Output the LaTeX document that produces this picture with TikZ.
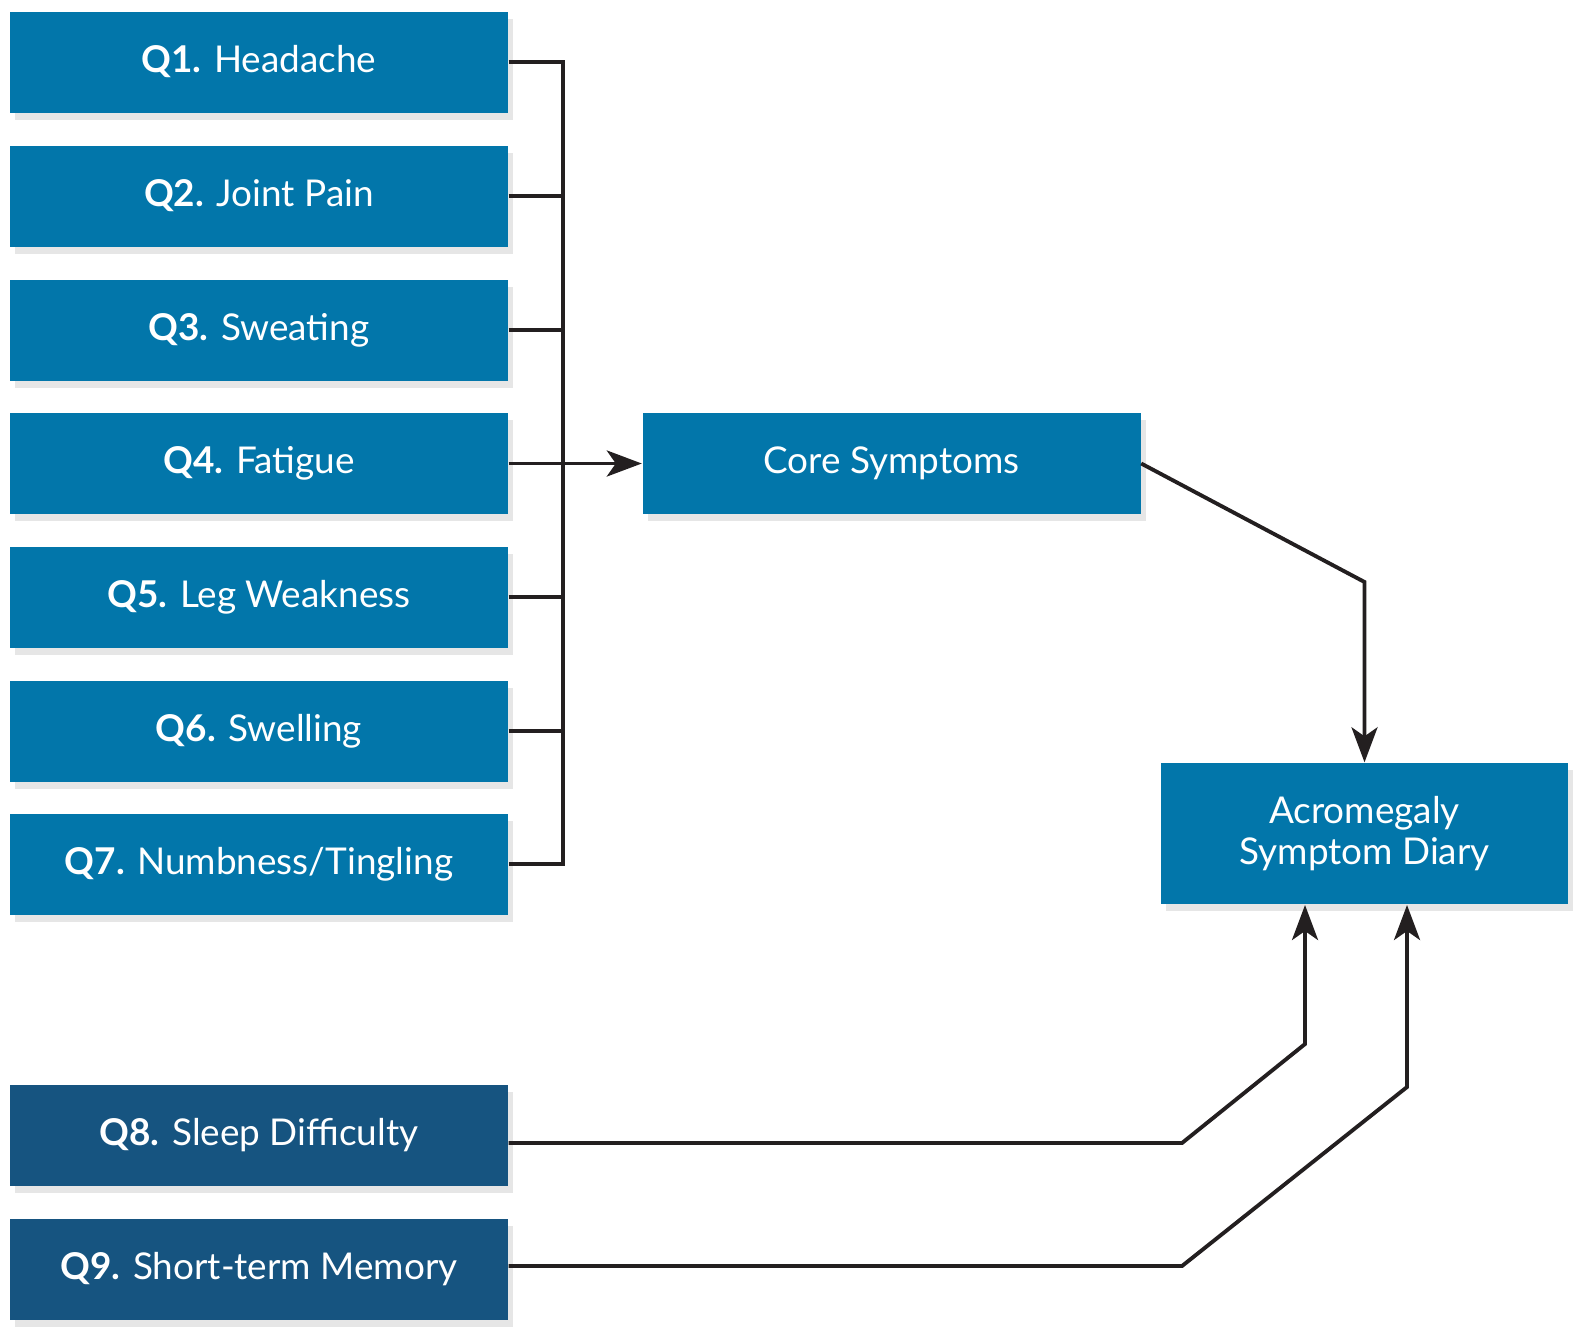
\documentclass[tikz,border=0pt]{standalone}
\usepackage{fontspec}
\setmainfont{Lato}
\usetikzlibrary{arrows.meta,shadows}

\definecolor{qblue}{RGB}{2,118,170}
\definecolor{qdark}{RGB}{22,84,128}
\definecolor{linegray}{RGB}{35,31,32}

\begin{document}
\begin{tikzpicture}[x=0.1mm, y=-0.1mm,
  box/.style={fill=qblue, text=white, minimum width=49.8mm, minimum height=10.1mm, inner sep=0pt,
    font=\fontsize{10.5}{11.5}\selectfont,
    drop shadow={shadow xshift=0.5mm, shadow yshift=-0.7mm, opacity=0.2}},
  darkbox/.style={box, fill=qdark},
  link/.style={line width=1.1pt, draw=linegray},
  arr/.style={link, -{Stealth[length=3.5mm, width=2.6mm, inset=0.9mm]}}]

\useasboundingbox (0,0) rectangle (1587,1338);

% questions
\node[box] (q1) at (259,62) {\textbf{Q1.} Headache};
\node[box] (q2) at (259,196) {\textbf{Q2.} Joint Pain};
\node[box] (q3) at (259,330) {\textbf{Q3.} Sweating};
\node[box] (q4) at (259,463.5) {\textbf{Q4.} Fatigue};
\node[box] (q5) at (259,597) {\textbf{Q5.} Leg Weakness};
\node[box] (q6) at (259,731) {\textbf{Q6.} Swelling};
\node[box] (q7) at (259,864) {\textbf{Q7.} Numbness/Tingling};
\node[darkbox] (q8) at (259,1135) {\textbf{Q8.} Sleep Difficulty};
\node[darkbox] (q9) at (259,1269) {\textbf{Q9.} Short-term Memory};

% targets
\node[box] (core) at (891.5,463.5) {Core Symptoms};
\node[box, minimum width=40.7mm, minimum height=14.1mm, align=center] (diary) at (1364.5,833.5) {Acromegaly\\Symptom Diary};

% bus
\coordinate (bus) at (563,0);
\draw[link] (q1.east) -- (q1.east -| bus) -- (q7.east -| bus) -- (q7.east);
\draw[link] (q2.east) -- (q2.east -| bus);
\draw[link] (q3.east) -- (q3.east -| bus);
\draw[link] (q5.east) -- (q5.east -| bus);
\draw[link] (q6.east) -- (q6.east -| bus);
\draw[arr] (q4.east) -- (core.west);

% into the diary
\coordinate (c1) at (1364.5,582);
\draw[arr] (core.east) -- (c1) -- (diary.north);

\coordinate (s8a) at (1182,1143);
\coordinate (s8b) at (1305,1044);
\coordinate (s8c) at (1305,905);
\draw[arr] ([yshift=-0.8mm]q8.east) -- (s8a) -- (s8b) -- (s8c);

\coordinate (s9a) at (1182,1266);
\coordinate (s9b) at (1407,1087);
\coordinate (s9c) at (1407,905);
\draw[arr] ([yshift=0.3mm]q9.east) -- (s9a) -- (s9b) -- (s9c);

\end{tikzpicture}
\end{document}
